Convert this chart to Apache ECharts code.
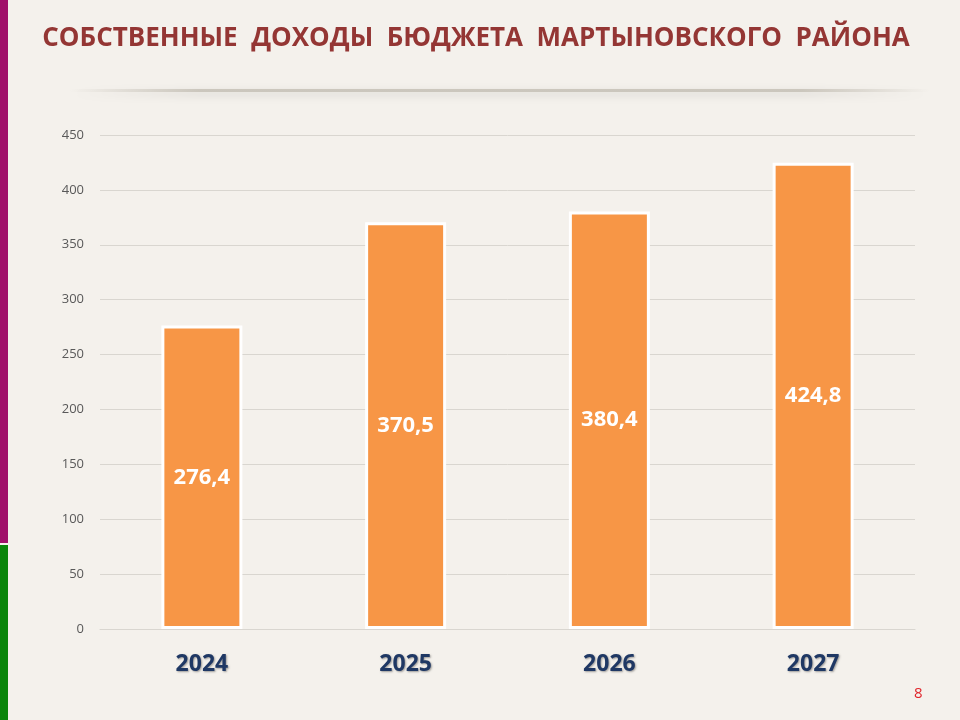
<!DOCTYPE html>
<html>
<head>
<meta charset="utf-8">
<script src="https://cdn.jsdelivr.net/npm/echarts@6/dist/echarts.min.js"></script>
<style>
  html, body { margin: 0; padding: 0; background: #f4f1ec; }
  #mainContent { width: 960px; height: 720px; }
</style>
</head>
<body>
<div id="mainContent"></div>
<script>
// данные
var years = ['2024', '2025', '2026', '2027'];
var incomes = [276.4, 370.5, 380.4, 424.8];
var titleText = 'СОБСТВЕННЫЕ  ДОХОДЫ  БЮДЖЕТА  МАРТЫНОВСКОГО  РАЙОНА';
var pageNumber = '8';

var myChart = echarts.init(document.getElementById('mainContent'));

option = {
    backgroundColor: '#f4f1ec',
    textStyle: { fontFamily: 'Open Sans' },
    graphic: [
        // полосы слева
        { type: 'rect', left: 0, top: 0, shape: { width: 8, height: 543 }, style: { fill: '#a0106a' } },
        { type: 'rect', left: 0, top: 545, shape: { width: 8, height: 175 }, style: { fill: '#0a850a' } },
        // заголовок
        {
            type: 'text', x: 476, y: 39,
            style: {
                text: titleText,
                fill: '#943634',
                fontSize: 26,
                fontWeight: 'bold',
                fontFamily: 'Open Sans',
                align: 'center',
                verticalAlign: 'middle'
            }
        },
        // тень под заголовком
        {
            type: 'rect', left: 70, top: 89, shape: { width: 860, height: 3 },
            style: {
                fill: new echarts.graphic.LinearGradient(0, 0, 1, 0, [
                    { offset: 0, color: 'rgba(200,195,185,0)' },
                    { offset: 0.15, color: 'rgba(200,195,185,0.9)' },
                    { offset: 0.85, color: 'rgba(200,195,185,0.9)' },
                    { offset: 1, color: 'rgba(200,195,185,0)' }
                ]),
                shadowBlur: 8,
                shadowOffsetY: 3,
                shadowColor: 'rgba(0,0,0,0.18)'
            }
        },
        {
            type: 'text', left: 914, top: 686,
            style: { text: pageNumber, fill: '#e0242a', fontSize: 15, fontFamily: 'Open Sans' }
        }
    ],
    grid: {
        left: 100,
        right: 45,
        top: 135,
        bottom: 91
    },
    xAxis: {
        type: 'category',
        data: years,
        axisLine: { lineStyle: { color: '#d9d6d0' } },
        axisTick: { show: false },
        axisLabel: {
            margin: 24,
            fontSize: 23,
            fontWeight: 'bold',
            fontFamily: 'Open Sans',
            color: '#1f3864',
            textShadowColor: 'rgba(0,0,0,0.35)',
            textShadowBlur: 2,
            textShadowOffsetX: 1,
            textShadowOffsetY: 1
        }
    },
    yAxis: {
        type: 'value',
        min: 0,
        max: 450,
        interval: 50,
        axisLine: { show: false },
        axisTick: { show: false },
        axisLabel: {
            margin: 16,
            fontSize: 13,
            color: '#595959'
        },
        splitLine: { lineStyle: { color: '#d9d6d0' } }
    },
    series: [{
        name: 'Собственные доходы',
        type: 'bar',
        data: incomes,
        barWidth: 81,
        itemStyle: {
            color: '#f79646',
            borderColor: '#ffffff',
            borderWidth: 3
        },
        label: {
            show: true,
            position: 'inside',
            formatter: function (p) {
                return p.value.toFixed(1).replace('.', ',');
            },
            fontSize: 22,
            fontWeight: 'bold',
            fontFamily: 'Open Sans',
            color: '#ffffff'
        }
    }]
};

myChart.setOption(option);
</script>
</body>
</html>
